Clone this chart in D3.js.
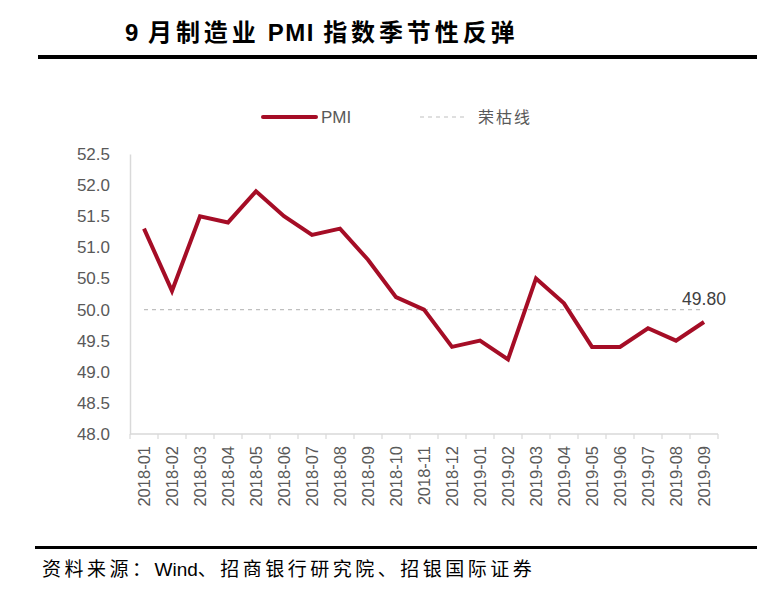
<!DOCTYPE html>
<html><head><meta charset="utf-8">
<script src="https://cdn.jsdelivr.net/npm/d3@7"></script>
<style>body{margin:0;background:#fff;}svg{display:block;}text{white-space:pre;}</style>
</head><body>
<svg id="c" width="773" height="594"></svg>
<script>
const categories = ["2018-01","2018-02","2018-03","2018-04","2018-05","2018-06","2018-07","2018-08","2018-09","2018-10","2018-11","2018-12","2019-01","2019-02","2019-03","2019-04","2019-05","2019-06","2019-07","2019-08","2019-09"];
const pmiValues = [51.3,50.3,51.5,51.4,51.9,51.5,51.2,51.3,50.8,50.2,50.0,49.4,49.5,49.2,50.5,50.1,49.4,49.4,49.7,49.5,49.8];
const thresholdValue = 50.0;
const yTicks = [48.0,48.5,49.0,49.5,50.0,50.5,51.0,51.5,52.0,52.5];
const titleParts = [["9 ",false],["月制造业",true],[" PMI ",false],["指数季节性反弹",true]];
const sourceParts = [["资料来源：",true],["Wind",false],["、招商银行研究院、招银国际证券",true]];
const legendLabels = ["PMI","荣枯线"];
const lastLabel = "49.80";

const svg = d3.select("#c");
const red = "#a50d26", gray = "#595959", axisCol = "#d9d9d9";
const x = d3.scaleBand().domain(categories).range([130,718]);
const y = d3.scaleLinear().domain([48,52.5]).range([434,154]);
const cx = d => x(d) + x.bandwidth()/2;

// title
svg.append("text").attr("x",125).attr("y",41).attr("font-family","Liberation Sans, Noto Sans CJK SC, sans-serif")
  .attr("font-weight","bold").attr("font-size",24).attr("fill","#000")
  .selectAll("tspan").data(titleParts).join("tspan")
  .attr("letter-spacing",d=>d[1]?3.9:1.5).text(d=>d[0]);
svg.append("rect").attr("x",38).attr("y",55).attr("width",719).attr("height",4).attr("fill","#000");

// legend
const lg = svg.append("g").attr("font-family","Liberation Sans, Noto Sans CJK SC, sans-serif").attr("font-size",17).attr("fill",gray);
lg.append("line").attr("x1",263).attr("x2",316).attr("y1",117).attr("y2",117).attr("stroke",red).attr("stroke-width",4).attr("stroke-linecap","round");
lg.append("text").attr("x",321).attr("y",123).text(legendLabels[0]);
lg.append("line").attr("x1",420).attr("x2",468).attr("y1",117).attr("y2",117).attr("stroke","#bfbfbf").attr("stroke-width",1.2).attr("stroke-dasharray","4,4");
lg.append("text").attr("x",478).attr("y",123).attr("font-family","Noto Sans CJK SC, sans-serif").attr("font-size",16).attr("letter-spacing",2).text(legendLabels[1]);

// y axis
const ya = svg.append("g").attr("transform","translate(130,0)")
  .call(d3.axisLeft(y).tickValues(yTicks).tickFormat(d3.format(".1f")).tickSize(0).tickPadding(20));
ya.select(".domain").attr("stroke",axisCol).attr("stroke-width",1.5);
ya.selectAll("text").attr("font-family","Liberation Sans, Arial, sans-serif").attr("font-size",17).attr("fill",gray);

// x axis
const xa = svg.append("g").attr("transform","translate(0,434)")
  .call(d3.axisBottom(x).tickSize(0).tickPadding(0));
xa.select(".domain").attr("stroke",axisCol).attr("stroke-width",1.5).attr("d","M130,0H718");
xa.selectAll(".tick line").remove();
xa.selectAll(".tick text").attr("font-family","Liberation Sans, Arial, sans-serif").attr("font-size",16.5).attr("fill",gray)
  .attr("transform","rotate(-90)").attr("text-anchor","end").attr("x",-12).attr("y",0).attr("dy","0.35em");
svg.append("g").selectAll("line").data(categories.concat(["_end"])).join("line")
  .attr("x1",(d,i)=>130+i*x.bandwidth()).attr("x2",(d,i)=>130+i*x.bandwidth())
  .attr("y1",434).attr("y2",439).attr("stroke",axisCol).attr("stroke-width",1.2);

// threshold
svg.append("line").attr("x1",cx(categories[0])).attr("x2",cx(categories[categories.length-1]))
  .attr("y1",y(thresholdValue)).attr("y2",y(thresholdValue))
  .attr("stroke","#bfbfbf").attr("stroke-width",1.2).attr("stroke-dasharray","4,4");

// line
svg.append("path").datum(pmiValues.map((v,i)=>[cx(categories[i]),y(v)]))
  .attr("d",d3.line()).attr("fill","none").attr("stroke",red).attr("stroke-width",4).attr("stroke-linejoin","miter");

// last label
svg.append("text").attr("x",cx(categories[categories.length-1])).attr("y",y(pmiValues[pmiValues.length-1])-17)
  .attr("text-anchor","middle").attr("font-family","Liberation Sans, Arial, sans-serif").attr("font-size",17.5).attr("fill","#404040").text(lastLabel);

// bottom
svg.append("rect").attr("x",35).attr("y",546).attr("width",722).attr("height",3).attr("fill","#000");
svg.append("text").attr("x",42).attr("y",576).attr("font-family","Liberation Sans, Noto Sans CJK SC, sans-serif").attr("font-size",19).attr("fill","#000")
  .selectAll("tspan").data(sourceParts).join("tspan")
  .attr("font-family",d=>d[1]?"Noto Sans CJK SC, sans-serif":"Liberation Sans, Arial, sans-serif")
  .attr("letter-spacing",d=>d[1]?3.5:0).text(d=>d[0]);
</script>
</body></html>
